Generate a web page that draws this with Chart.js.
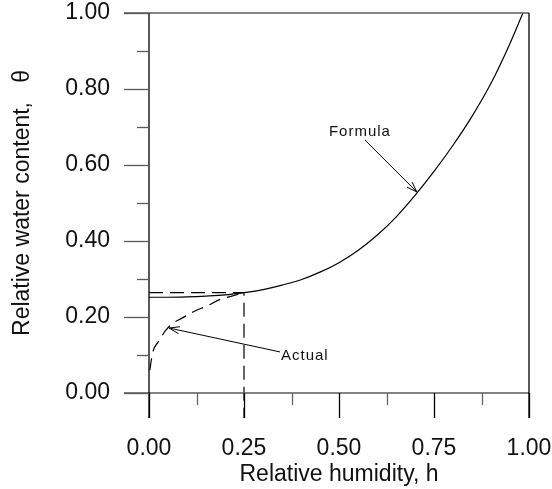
<!DOCTYPE html>
<html>
<head>
<meta charset="utf-8">
<script src="https://cdn.jsdelivr.net/npm/chart.js@4/dist/chart.umd.min.js"></script>
<style>
  html, body { margin: 0; padding: 0; background: #fff; }
  canvas { display: block; }
</style>
</head>
<body>
<canvas id="canvas_sorption" width="552" height="489"></canvas>
<script>
// curve
const formulaH     = [0, 0.05, 0.10, 0.15, 0.20, 0.25, 0.30, 0.35, 0.40, 0.45, 0.50, 0.55, 0.60, 0.65, 0.70, 0.75, 0.80, 0.85, 0.90, 0.95, 0.984];
const formulaTheta = [0.252, 0.252, 0.253, 0.255, 0.258, 0.264, 0.272, 0.284, 0.298, 0.318, 0.343, 0.375, 0.415, 0.463, 0.520, 0.583, 0.652, 0.728, 0.815, 0.920, 1.0];

const actualH     = [0.002, 0.010, 0.024, 0.045, 0.063, 0.087, 0.121, 0.153, 0.184, 0.218, 0.25];
const actualTheta = [0.060, 0.108, 0.134, 0.166, 0.184, 0.197, 0.216, 0.229, 0.245, 0.255, 0.264];

// dashed guide lines at h = 0.25
const guideH     = [0, 0.25, 0.25];
const guideTheta = [0.264, 0.264, -0.066];

const xTicks = [0, 0.25, 0.50, 0.75, 1.00];
const xMinor = [0.125, 0.375, 0.625, 0.875];
const xTickLabels = ['0.00', '0.25', '0.50', '0.75', '1.00'];
const yTicks = [0, 0.2, 0.4, 0.6, 0.8, 1.0];
const yMinor = [0.1, 0.3, 0.5, 0.7, 0.9];
const yTickLabels = ['0.00', '0.20', '0.40', '0.60', '0.80', '1.00'];

const xTitle = 'Relative humidity, h';
const yTitle = 'Relative water content,   θ';

// label text, label position, arrow tail, arrow tip (data units)
const notes = [
  {text: 'Formula', at: [0.555, 0.687], from: [0.568, 0.666], to: [0.705, 0.529]},
  {text: 'Actual',  at: [0.410, 0.097], from: [0.345, 0.108], to: [0.053, 0.171]},
];

const FONT = '"Liberation Sans", Arial, Helvetica, sans-serif';

function toXY(h, t) {
  return h.map((v, i) => ({x: v, y: t[i]}));
}

function line(ctx, x1, y1, x2, y2) {
  ctx.beginPath();
  ctx.moveTo(x1, y1);
  ctx.lineTo(x2, y2);
  ctx.stroke();
}

const framePlugin = {
  id: 'frame',
  afterDatasetsDraw(chart) {
    const {ctx, chartArea, scales} = chart;
    const xs = scales.x, ys = scales.y;
    const L = chartArea.left, R = chartArea.right, T = chartArea.top, B = chartArea.bottom;
    const major = 25, minor = 12;
    ctx.save();
    ctx.lineWidth = 1.3;

    // box
    ctx.strokeStyle = '#5a5a5a';
    line(ctx, L - major, T, R, T);
    line(ctx, L - major, B, R, B);
    ctx.strokeStyle = '#000';
    line(ctx, L, T, L, B + major);
    line(ctx, R, T, R, B + major);

    // x ticks
    xTicks.forEach(v => {
      const px = Math.round(xs.getPixelForValue(v)) + 0.5;
      ctx.strokeStyle = '#000';
      line(ctx, px, B, px, B + major);
    });
    xMinor.forEach(v => {
      const px = Math.round(xs.getPixelForValue(v)) + 0.5;
      ctx.strokeStyle = '#666';
      line(ctx, px, B, px, B + minor);
    });
    // y ticks
    ctx.strokeStyle = '#5a5a5a';
    yTicks.forEach(v => {
      const py = Math.round(ys.getPixelForValue(v)) + 0.5;
      line(ctx, L - major, py, L, py);
    });
    yMinor.forEach(v => {
      const py = Math.round(ys.getPixelForValue(v)) + 0.5;
      line(ctx, L - minor, py, L, py);
    });

    // tick labels
    ctx.fillStyle = '#111';
    ctx.font = '23px ' + FONT;
    ctx.textAlign = 'center';
    ctx.textBaseline = 'middle';
    xTicks.forEach((v, i) => ctx.fillText(xTickLabels[i], xs.getPixelForValue(v), B + 56));
    ctx.textAlign = 'right';
    yTicks.forEach((v, i) => ctx.fillText(yTickLabels[i], L - 39, ys.getPixelForValue(v)));

    // axis titles
    ctx.textAlign = 'center';
    ctx.fillText(xTitle, (L + R) / 2, B + 82);
    ctx.save();
    ctx.translate(23, (T + B) / 2);
    ctx.rotate(-Math.PI / 2);
    ctx.fillText(yTitle, 0, 0);
    ctx.restore();

    // notes with open arrows
    ctx.font = '15px ' + FONT;
    ctx.letterSpacing = '1px';
    ctx.strokeStyle = '#000';
    ctx.lineWidth = 1;
    notes.forEach(n => {
      ctx.textAlign = 'center';
      ctx.fillText(n.text, xs.getPixelForValue(n.at[0]), ys.getPixelForValue(n.at[1]));
      const x1 = xs.getPixelForValue(n.from[0]), y1 = ys.getPixelForValue(n.from[1]);
      const x2 = xs.getPixelForValue(n.to[0]), y2 = ys.getPixelForValue(n.to[1]);
      line(ctx, x1, y1, x2, y2);
      const ang = Math.atan2(y2 - y1, x2 - x1);
      const len = 11, spread = 0.33;
      ctx.beginPath();
      ctx.moveTo(x2 - len * Math.cos(ang - spread), y2 - len * Math.sin(ang - spread));
      ctx.lineTo(x2, y2);
      ctx.lineTo(x2 - len * Math.cos(ang + spread), y2 - len * Math.sin(ang + spread));
      ctx.stroke();
    });
    ctx.restore();
  }
};

const config = {
  type: 'scatter',
  data: {
    datasets: [
      {
        label: 'Formula',
        data: toXY(formulaH, formulaTheta),
        showLine: true,
        borderColor: '#000',
        borderWidth: 1.2,
        pointRadius: 0,
        cubicInterpolationMode: 'monotone',
      },
      {
        label: 'Actual',
        data: toXY(actualH, actualTheta),
        showLine: true,
        borderColor: '#000',
        borderWidth: 1.2,
        borderDash: [12, 7],
        pointRadius: 0,
        cubicInterpolationMode: 'monotone',
      },
      {
        label: 'guide',
        data: toXY(guideH, guideTheta),
        showLine: true,
        borderColor: '#000',
        borderWidth: 1.2,
        borderDash: [14, 7],
        pointRadius: 0,
        tension: 0,
        clip: false,
      },
    ]
  },
  options: {
    responsive: false,
    animation: false,
    devicePixelRatio: 1,
    layout: {
      padding: {left: 149, right: 23, top: 13, bottom: 96}
    },
    scales: {
      x: {type: 'linear', min: 0, max: 1, display: false},
      y: {type: 'linear', min: 0, max: 1, display: false},
    },
    plugins: {
      legend: {display: false},
      tooltip: {enabled: false},
    }
  },
  plugins: [framePlugin]
};

window.chart = new Chart(document.getElementById('canvas_sorption'), config);
</script>
</body>
</html>
